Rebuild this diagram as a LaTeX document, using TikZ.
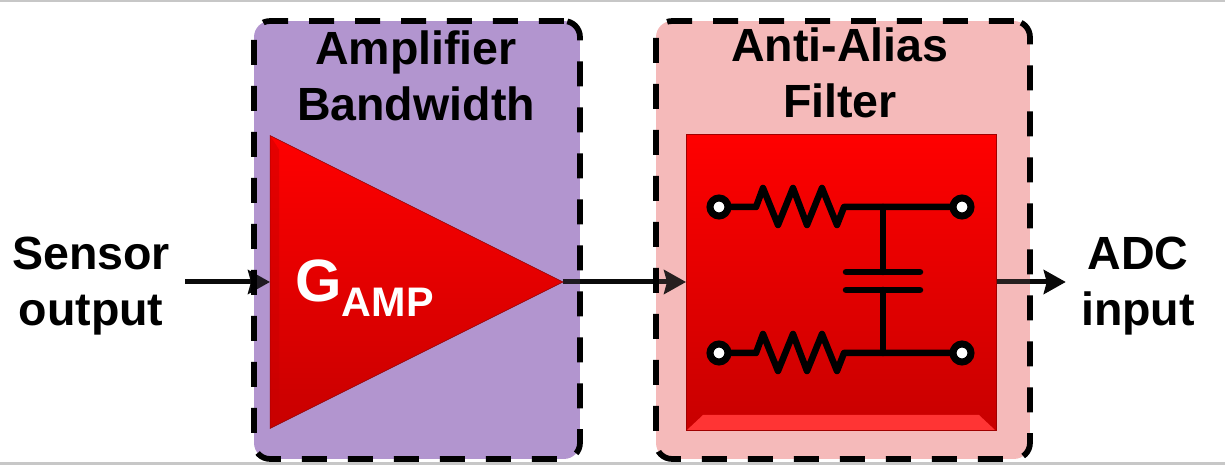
\documentclass[tikz,border=0pt]{standalone}
\usepackage{fontspec}
\setmainfont{Liberation Sans}
\usepackage{xcolor}
\usetikzlibrary{shapes.geometric, arrows.meta, positioning, backgrounds, calc}

\definecolor{ampPurple}{HTML}{B295CF}
\definecolor{aafPink}{HTML}{F5BABA}
\definecolor{topRed}{HTML}{FF0000}
\definecolor{lowRed}{HTML}{C80000}
\definecolor{bevelRed}{HTML}{FF3434}
\definecolor{arrowBlack}{HTML}{0A0A0A}

\begin{document}
\begin{tikzpicture}[
    x=0.02cm, y=-0.02cm,
    stage/.style={rectangle, rounded corners=0.32cm, inner sep=0pt, outer sep=0pt, minimum height=8.76cm, draw=black, line width=0.115cm, dash pattern=on 0.5cm off 0.42cm, fill opacity=0.12},
    stagefill/.style={rounded corners=0.32cm},
    heading/.style={align=center, text=black, font=\bfseries\fontsize{26.5}{32}\selectfont},
    ioText/.style={heading, inner sep=0.3cm},
    amptri/.style={isosceles triangle, isosceles triangle stretches, shape border rotate=0, inner sep=0pt, outer sep=0pt, minimum width=5.86cm, minimum height=5.86cm, draw=lowRed!70!black, line width=0.3pt, top color=topRed, bottom color=lowRed},
    filterbox/.style={rectangle, inner sep=0pt, outer sep=0pt, minimum width=6.2cm, minimum height=5.92cm, draw=lowRed!80!black, line width=0.5pt, top color=topRed, bottom color=lowRed},
    terminal/.style={circle, inner sep=0pt, outer sep=0pt, minimum size=0.36cm, draw=black, line width=0.14cm, fill=white},
    wire/.style={draw=black, line width=0.13cm, line join=round, line cap=round},
    arrow/.style={line width=0.1cm, draw=arrowBlack, -{Stealth[length=0.44cm, width=0.48cm, inset=0.06cm]}},
    edgeline/.style={draw=black!22, line width=0.06cm}
]
\useasboundingbox (0,0) rectangle (1225,465);

\draw [edgeline] (0,1) -- (1225,1);
\draw [edgeline] (0,464) -- (1225,464);

\node (ampbox) [stage, minimum width=6.52cm, fill=ampPurple] at (417,240) {};
\node (aafbox) [stage, minimum width=7.48cm, fill=aafPink] at (843,240) {};

\node (amptitle) [heading] at (416,76) {Amplifier\\Bandwidth};
\node (aaftitle) [heading] at (840,73) {Anti-Alias\\Filter};

\node (amp) [amptri, anchor=west] at (270,282) {};
\fill [lowRed, opacity=0.45] (amp.left corner) -- (amp.right corner) -- ($(amp.right corner)+(9,-10)$) -- ($(amp.left corner)+(9,14)$) -- cycle;
\node (gain) [anchor=base west, inner sep=0pt, text=white, font=\bfseries\fontsize{34}{34}\selectfont] at (295,302) {G\raisebox{-8.5pt}{\fontsize{23.5}{23.5}\selectfont AMP}};

\node (filter) [filterbox] at (841,282) {};
\fill [bevelRed] ($(filter.south west)+(1,0)$) -- ($(filter.south west)+(17,-15)$) -- ($(filter.south east)+(-17,-15)$) -- ($(filter.south east)+(-1,0)$) -- cycle;

\node (sensor) [ioText] at (91,286) {Sensor\\output};
\node (adc) [ioText] at (1138,286) {ADC\\input};

\node (inTop) [terminal] at (719,207) {};
\node (outTop) [terminal] at (962,207) {};
\node (inBot) [terminal] at (719,353) {};
\node (outBot) [terminal] at (962,353) {};

\coordinate (joinTop) at (883,207);
\coordinate (joinBot) at (883,353);
\coordinate (capTop) at (883,272);
\coordinate (capBot) at (883,290);

\draw [wire] (inTop.east) -- ++(28,0) -- ++(7,-19) -- ++(15,37) -- ++(15,-37) -- ++(14,37) -- ++(15,-37) -- ++(15,37) -- ++(7,-18) -- (outTop.west);
\draw [wire] (inBot.east) -- ++(28,0) -- ++(7,-19) -- ++(15,37) -- ++(15,-37) -- ++(14,37) -- ++(15,-37) -- ++(15,37) -- ++(7,-18) -- (outBot.west);
\draw [wire] (joinTop) -- (capTop);
\draw [wire] (capBot) -- (joinBot);
\draw [wire] ($(capTop)+(-37,0)$) -- ($(capTop)+(37,0)$);
\draw [wire] ($(capBot)+(-37,0)$) -- ($(capBot)+(37,0)$);

\begin{scope}[on background layer]
\fill [stagefill, ampPurple] (ampbox.south west) rectangle (ampbox.north east);
\fill [stagefill, aafPink] (aafbox.south west) rectangle (aafbox.north east);
\draw [arrow] (sensor.east |- amp.west) -- (amp.west);
\draw [arrow] (amp.apex) -- (filter.west);
\draw [arrow] (filter.east) -- (filter.east -| adc.west);
\end{scope}

\end{tikzpicture}
\end{document}
